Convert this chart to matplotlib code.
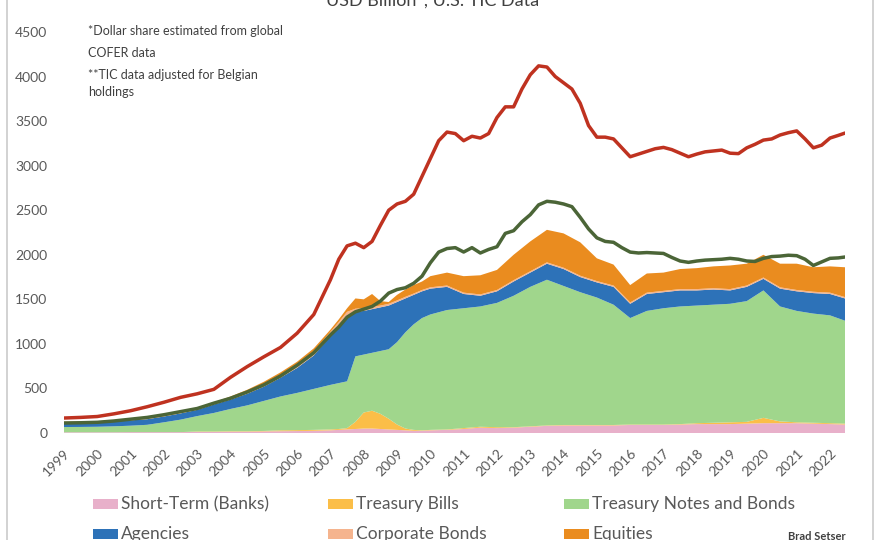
import matplotlib
matplotlib.use("Agg")
import matplotlib.pyplot as plt
from matplotlib.patches import Rectangle

plt.rcParams['font.family'] = ['Lato', 'DejaVu Sans']

# ---------------- data ----------------
years = list(range(1999, 2023))
year_labels = [str(y) for y in years]

# stacked-area date grid (decimal years)
xs = [1999.0, 1999.5, 2000.0, 2000.5, 2001.0, 2001.5, 2002.0, 2002.5, 2003.0, 2003.5,
      2004.0, 2004.5, 2005.0, 2005.5, 2006.0, 2006.5,
      2007.0, 2007.25, 2007.5, 2007.75, 2008.0, 2008.25, 2008.5, 2008.75,
      2009.0, 2009.25, 2009.5, 2009.75,
      2010.0, 2010.5, 2011.0, 2011.5, 2012.0, 2012.5, 2013.0, 2013.5, 2014.0, 2014.5,
      2015.0, 2015.5, 2016.0, 2016.5, 2017.0, 2017.5, 2018.0, 2018.5, 2019.0, 2019.5,
      2020.0, 2020.5, 2021.0, 2021.5, 2022.0, 2022.45]

short_term = [8, 8, 8, 8, 10, 10, 10, 10, 12, 12, 15, 15, 18, 20, 22, 25,
              30, 35, 40, 45, 50, 50, 45, 40, 35, 30, 25, 25,
              30, 35, 45, 60, 55, 60, 70, 80, 85, 85, 85, 85, 90, 90, 90, 95,
              100, 100, 100, 105, 110, 110, 110, 105, 100, 95]
treasury_bills = [0, 0, 0, 0, 0, 0, 0, 0, 5, 5, 5, 5, 5, 10, 10, 10,
                  10, 10, 15, 80, 180, 200, 170, 120, 60, 20, 10, 5,
                  5, 5, 10, 10, 10, 5, 5, 5, 5, 5, 5, 5, 5, 5, 5, 5,
                  10, 15, 20, 20, 60, 20, 10, 10, 10, 10]
treasury_notes = [59, 60, 62, 67, 72, 82, 110, 140, 173, 208, 250, 290, 337, 380, 418, 460,
                  500, 515, 525, 735, 650, 650, 705, 780, 925, 1080, 1185, 1260,
                  1295, 1340, 1345, 1350, 1395, 1475, 1565, 1635, 1560, 1490, 1430, 1350,
                  1195, 1275, 1305, 1320, 1320, 1325, 1330, 1355, 1430, 1290, 1250, 1225,
                  1210, 1155]
agencies = [56, 57, 58, 60, 60, 63, 65, 70, 70, 95, 105, 130, 160, 210, 280, 375,
            550, 640, 740, 500, 490, 490, 490, 490, 450, 380, 330, 300,
            290, 260, 160, 120, 130, 160, 160, 180, 190, 170, 170, 200,
            160, 190, 180, 180, 170, 170, 150, 160, 130, 200, 220, 230, 240, 250]
corporate_bonds = [2, 2, 2, 3, 3, 4, 5, 6, 8, 10, 14, 18, 22, 28, 34, 40,
                   45, 45, 40, 35, 30, 25, 20, 20, 18, 18, 15, 15,
                   15, 15, 15, 15, 15, 15, 15, 15, 15, 15, 15, 15,
                   15, 15, 15, 15, 15, 15, 15, 15, 15, 15, 15, 15, 15, 15]
equities = [3, 3, 4, 4, 5, 6, 7, 9, 12, 15, 21, 27, 33, 32, 36, 40,
            25, 30, 40, 115, 100, 145, 50, 20, 62, 82, 95, 95,
            125, 145, 185, 215, 225, 285, 335, 365, 385, 375, 255, 235,
            195, 215, 205, 225, 235, 245, 265, 245, 255, 265, 295, 275, 295, 335]

# line date grid
xl = [1999.0, 1999.5, 2000.0, 2000.5, 2001.0, 2001.5, 2002.0, 2002.5, 2003.0, 2003.5,
      2004.0, 2004.5, 2005.0, 2005.5, 2006.0, 2006.5,
      2007.0, 2007.25, 2007.5, 2007.75, 2008.0, 2008.25, 2008.5, 2008.75,
      2009.0, 2009.25, 2009.5, 2009.75, 2010.0, 2010.25, 2010.5, 2010.75,
      2011.0, 2011.25, 2011.5, 2011.75, 2012.0, 2012.25, 2012.5, 2012.75,
      2013.0, 2013.25, 2013.5, 2013.75, 2014.0, 2014.25, 2014.5, 2014.75,
      2015.0, 2015.25, 2015.5, 2015.75, 2016.0, 2016.25, 2016.5, 2016.75,
      2017.0, 2017.25, 2017.5, 2017.75, 2018.0, 2018.25, 2018.5, 2018.75,
      2019.0, 2019.25, 2019.5, 2019.75, 2020.0, 2020.25, 2020.5, 2020.75,
      2021.0, 2021.25, 2021.5, 2021.75, 2022.0, 2022.25, 2022.45]

dollar_reserves_cofer = [168, 175, 185, 215, 250, 295, 345, 400, 440, 490,
                         625, 745, 855, 960, 1120, 1330,
                         1720, 1950, 2100, 2130, 2080, 2150, 2330, 2500,
                         2570, 2600, 2680, 2880, 3080, 3280, 3377, 3360,
                         3280, 3330, 3310, 3360, 3540, 3660, 3660, 3860,
                         4020, 4120, 4107, 4000, 3930, 3860, 3700, 3450,
                         3320, 3320, 3300, 3200, 3100, 3130, 3160, 3190,
                         3205, 3180, 3140, 3100, 3130, 3155, 3165, 3175,
                         3140, 3135, 3200, 3240, 3287, 3300, 3344, 3370,
                         3390, 3300, 3200, 3230, 3310, 3340, 3366]
tic_total = [112, 115, 120, 135, 155, 175, 205, 240, 275, 335,
             390, 460, 540, 640, 760, 900,
             1100, 1190, 1300, 1360, 1390, 1420, 1480, 1570,
             1610, 1630, 1680, 1760, 1910, 2030, 2070, 2080,
             2031, 2080, 2020, 2060, 2090, 2240, 2270, 2370,
             2450, 2560, 2600, 2590, 2570, 2540, 2420, 2290,
             2190, 2150, 2140, 2080, 2030, 2020, 2025, 2020,
             2015, 1970, 1930, 1915, 1930, 1940, 1945, 1950,
             1960, 1950, 1930, 1925, 1960, 1980, 1985, 1995,
             1990, 1950, 1880, 1920, 1960, 1965, 1975]

stack_labels = ["Short-Term (Banks)", "Treasury Bills", "Treasury Notes and Bonds",
                "Agencies", "Corporate Bonds", "Equities"]
stack_colors = ["#E8B0CA", "#FBBE48", "#A0D68C", "#2D72B8", "#F5B48E", "#EA8C1F"]

# ---------------- figure ----------------
W, H = 880, 540
fig = plt.figure(figsize=(W / 100, H / 100), dpi=100)
ax_left, ax_right, ax_top, ax_bottom = 64, 845, 32, 433
ax = fig.add_axes([ax_left / W, 1 - ax_bottom / H,
                   (ax_right - ax_left) / W, (ax_bottom - ax_top) / H])

ax.stackplot(xs, short_term, treasury_bills, treasury_notes, agencies,
             corporate_bonds, equities, colors=stack_colors, labels=stack_labels,
             linewidth=0)
ax.plot(xl, tic_total, color="#4B6537", lw=2.5, solid_capstyle="round", zorder=4)
ax.plot(xl, dollar_reserves_cofer, color="#BF3220", lw=2.5, solid_capstyle="round", zorder=5)

ax.set_xlim(1999, 2022.45)
ax.set_ylim(0, 4500)
ax.set_yticks(range(0, 4501, 500))
ax.set_xticks(years)
ax.set_xticklabels(year_labels, rotation=45, ha="right", rotation_mode="anchor")
ax.tick_params(axis="both", length=0, colors="#595959", labelsize=10)
ax.tick_params(axis="y", pad=12)
ax.tick_params(axis="x", pad=10)
for s in ax.spines.values():
    s.set_visible(False)

# frame around the chart
fig.add_artist(Rectangle((7 / W, -0.1), (873 - 7) / W, 1.2, transform=fig.transFigure,
                         fill=False, edgecolor="#CFCFCF", lw=1.3, clip_on=False))

# title (cropped at top in reference)
fig.text(440 / W, 1 - 6 / H, "USD Billion*, U.S. TIC Data**", ha="center", va="baseline",
         fontsize=13, color="#404040")

# notes
notes = [("*Dollar share estimated from global", 31),
         ("COFER data", 53),
         ("**TIC data adjusted for Belgian", 75),
         ("holdings", 92)]
for txt, yy in notes:
    fig.text(88 / W, 1 - yy / H, txt, ha="left", va="center", fontsize=9, color="#404040")

# legend (manual, 3 columns x 2 rows)
col_x = [93, 328, 564]
row_y = [504, 534]
order = [(0, 0), (0, 1), (0, 2), (1, 0), (1, 1), (1, 2)]
for (r, c), lab, colr in zip(order, stack_labels, stack_colors):
    x0 = col_x[c]
    y0 = row_y[r]
    fig.add_artist(Rectangle((x0 / W, 1 - (y0 + 5) / H), 25 / W, 10 / H,
                             transform=fig.transFigure, facecolor=colr, edgecolor="none"))
    fig.text((x0 + 28) / W, 1 - y0 / H, lab, ha="left", va="center",
             fontsize=12.5, color="#595959")

fig.text(846 / W, 1 - 531 / H, "Brad Setser", ha="right", va="top", fontsize=8,
         fontweight="bold", color="#404040")

fig.savefig("out.png", dpi=100)
